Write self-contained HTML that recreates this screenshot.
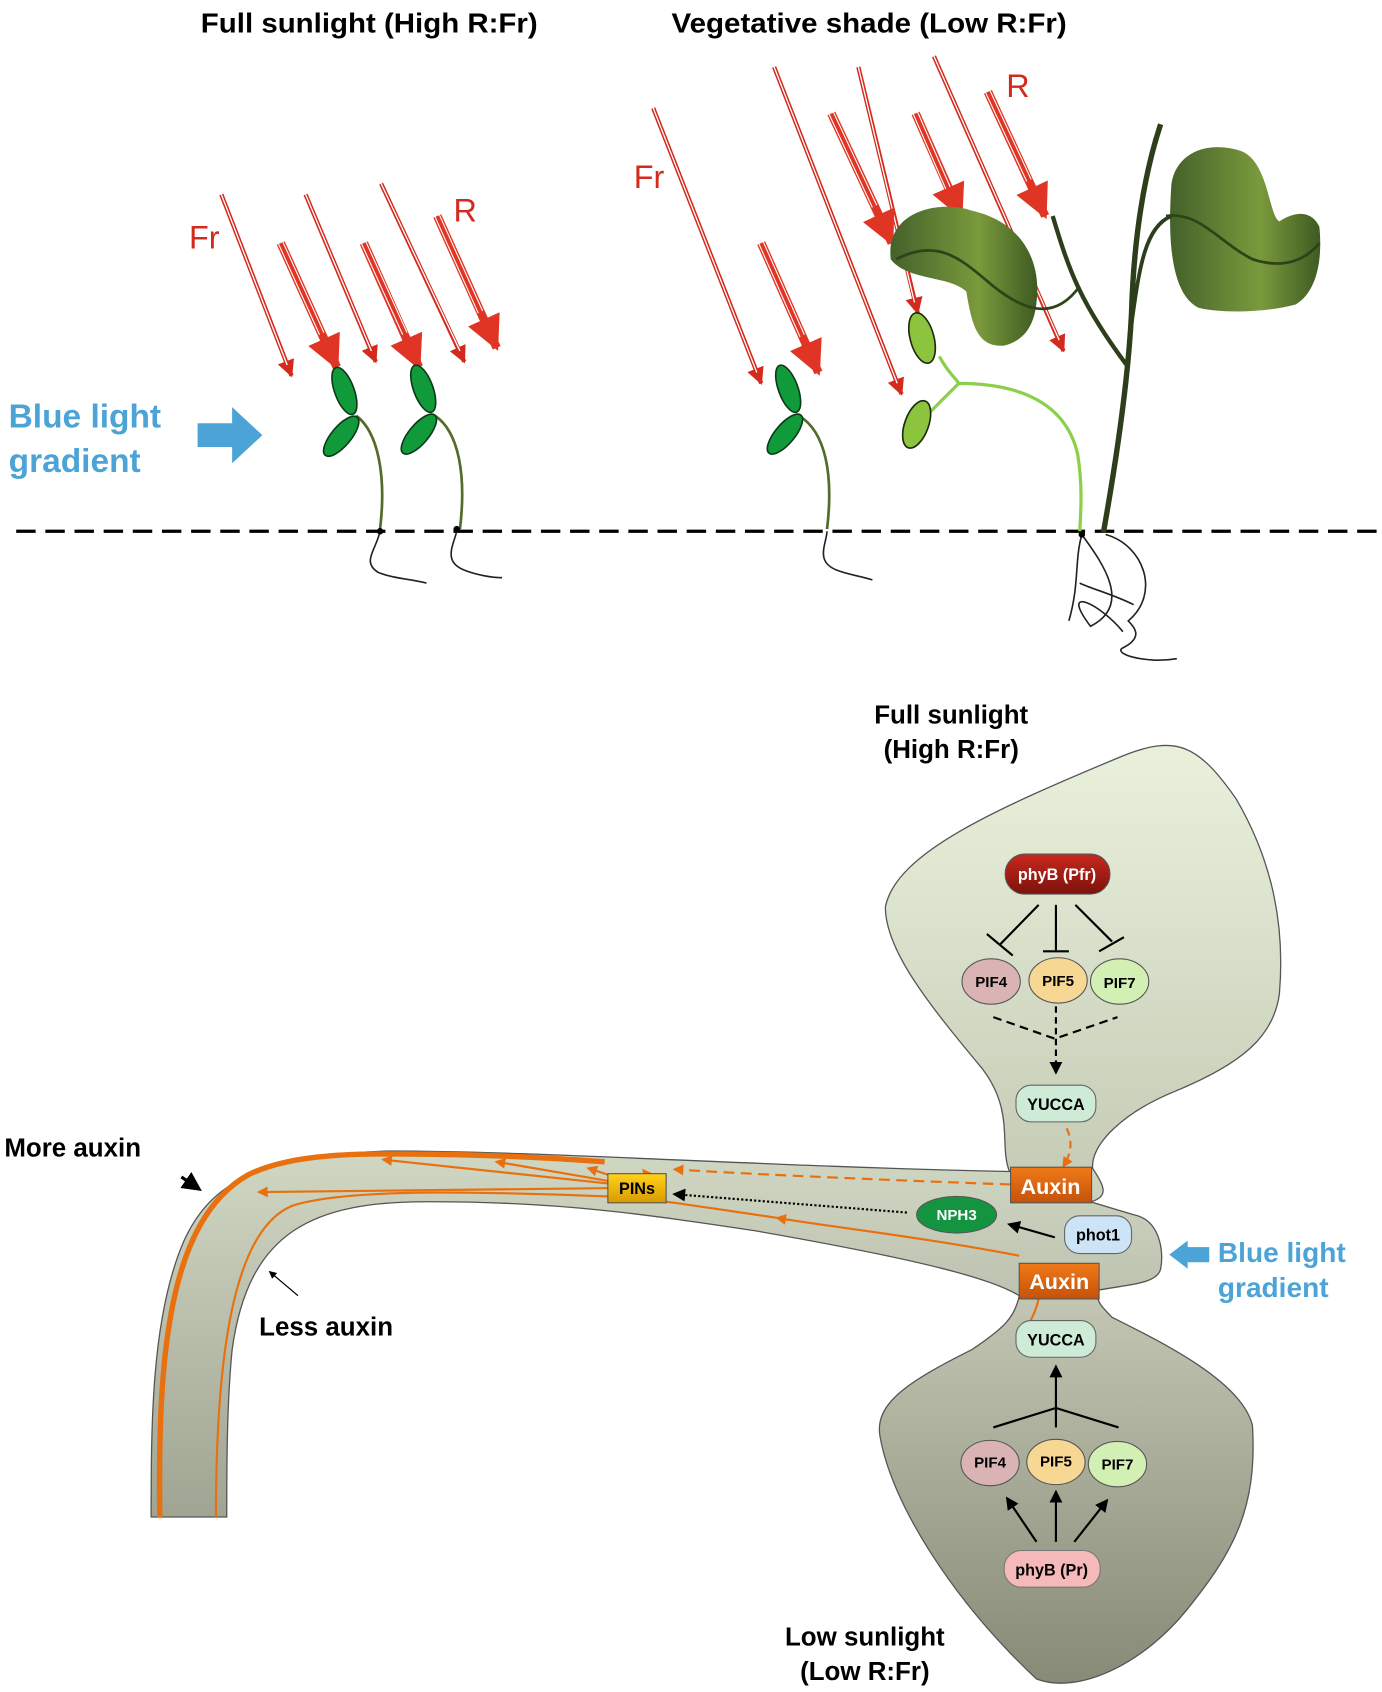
<!DOCTYPE html>
<html><head><meta charset="utf-8"><style>
html,body{margin:0;padding:0;background:#fff;}
svg{display:block;}
text{font-family:"Liberation Sans",sans-serif;}
</style></head><body>
<svg width="1382" height="1692" viewBox="0 0 1280 1567" xmlns="http://www.w3.org/2000/svg">
<defs>
<linearGradient id="top" x1="0" y1="0" x2="0" y2="1"><stop offset="0" stop-color="#e9f1dc"/><stop offset="1" stop-color="#c6ccb6"/></linearGradient>
<linearGradient id="bot" x1="0" y1="0" x2="0" y2="1"><stop offset="0" stop-color="#c2c6b2"/><stop offset="1" stop-color="#878a77"/></linearGradient>
<linearGradient id="hyp" x1="0" y1="0" x2="0" y2="1"><stop offset="0" stop-color="#d0d7c3"/><stop offset="1" stop-color="#a0a492"/></linearGradient>
<linearGradient id="leaf" x1="0" y1="0" x2="1" y2="0"><stop offset="0" stop-color="#44612a"/><stop offset="0.6" stop-color="#7a9a3c"/><stop offset="1" stop-color="#3f5a22"/></linearGradient>
<linearGradient id="pfr" x1="0" y1="0" x2="0" y2="1"><stop offset="0" stop-color="#c8281e"/><stop offset="1" stop-color="#7c120c"/></linearGradient>
<linearGradient id="aux" x1="0" y1="0" x2="0" y2="1"><stop offset="0" stop-color="#f07a18"/><stop offset="1" stop-color="#c4520a"/></linearGradient>
<linearGradient id="pin" x1="0" y1="0" x2="0" y2="1"><stop offset="0" stop-color="#ffd21a"/><stop offset="1" stop-color="#d89a00"/></linearGradient>
<marker id="ah" viewBox="0 0 10 10" refX="8" refY="5" markerWidth="6" markerHeight="6" orient="auto"><path d="M0,0L10,5L0,10z" fill="#000"/></marker>
<marker id="oh" viewBox="0 0 10 10" refX="8" refY="5" markerWidth="5" markerHeight="5" orient="auto"><path d="M0,0L10,5L0,10z" fill="#e8700e"/></marker>
<marker id="rs" viewBox="0 0 10 10" refX="9" refY="5" markerWidth="4" markerHeight="4" orient="auto"><path d="M0,0L10,5L0,10z" fill="#d42a1e"/></marker>
<marker id="rb" viewBox="0 0 10 10" refX="9" refY="5" markerWidth="4.5" markerHeight="4" orient="auto"><path d="M0,0L10,5L0,10z" fill="#e03524"/></marker>
</defs>

<text x="342" y="30" font-size="26" font-weight="bold" text-anchor="middle" textLength="312" lengthAdjust="spacingAndGlyphs">Full sunlight (High R:Fr)</text>
<text x="805" y="30" font-size="26" font-weight="bold" text-anchor="middle" textLength="366" lengthAdjust="spacingAndGlyphs">Vegetative shade (Low R:Fr)</text>

<text x="8" y="396" font-size="31" font-weight="bold" fill="#4ba3d6">Blue light</text>
<text x="8" y="437" font-size="31" font-weight="bold" fill="#4ba3d6">gradient</text>
<path d="M183,392 H215 V377 L243,403 L215,429 V414 H183Z" fill="#4ba3d6"/>

<line x1="15" y1="492" x2="1278" y2="492" stroke="#000" stroke-width="3" stroke-dasharray="18,9"/>

<g stroke="#d42a1e" stroke-width="4" fill="none">
<g marker-end="url(#rs)">
<line x1="205" y1="180" x2="270" y2="348"/>
<line x1="283" y1="180" x2="348" y2="335"/>
<line x1="353" y1="170" x2="430" y2="335"/>
<line x1="605" y1="100" x2="705" y2="355"/>
<line x1="717" y1="62" x2="835" y2="365"/>
<line x1="795" y1="62" x2="850" y2="290"/>
<line x1="865" y1="52" x2="985" y2="325"/>
</g>
</g>
<g stroke="#fff" stroke-width="1.2">
<line x1="205" y1="180" x2="266" y2="338"/>
<line x1="283" y1="180" x2="344" y2="325"/>
<line x1="353" y1="170" x2="426" y2="325"/>
<line x1="605" y1="100" x2="701" y2="345"/>
<line x1="717" y1="62" x2="831" y2="355"/>
<line x1="795" y1="62" x2="847" y2="280"/>
<line x1="865" y1="52" x2="981" y2="315"/>
</g>
<g stroke="#e03524" stroke-width="8" fill="none" marker-end="url(#rb)">
<line x1="260" y1="225" x2="312" y2="340"/>
<line x1="337" y1="225" x2="388" y2="340"/>
<line x1="405" y1="200" x2="460" y2="322"/>
<line x1="705" y1="225" x2="758" y2="345"/>
<line x1="770" y1="105" x2="826" y2="225"/>
<line x1="848" y1="105" x2="890" y2="200"/>
<line x1="915" y1="85" x2="968" y2="200"/>
</g>
<g stroke="#fff" stroke-width="1" fill="none">
<line x1="258" y1="226" x2="296" y2="310"/><line x1="262" y1="224" x2="300" y2="308"/>
<line x1="335" y1="226" x2="373" y2="310"/><line x1="339" y1="224" x2="377" y2="308"/>
<line x1="403" y1="201" x2="443" y2="290"/><line x1="407" y1="199" x2="447" y2="288"/>
<line x1="703" y1="226" x2="741" y2="312"/><line x1="707" y1="224" x2="745" y2="310"/>
<line x1="768" y1="106" x2="808" y2="192"/><line x1="772" y1="104" x2="812" y2="190"/>
<line x1="846" y1="106" x2="876" y2="175"/><line x1="850" y1="104" x2="880" y2="173"/>
<line x1="913" y1="86" x2="951" y2="168"/><line x1="917" y1="84" x2="955" y2="166"/>
</g>
<text x="175" y="230" font-size="30" fill="#d42a1e">Fr</text>
<text x="420" y="205" font-size="30" fill="#d42a1e">R</text>
<text x="587" y="174" font-size="30" fill="#d42a1e">Fr</text>
<text x="932" y="90" font-size="30" fill="#d42a1e">R</text>

<g fill="#119a3a" stroke="#0c3a18" stroke-width="1.5">
<path d="M330,385 C350,400 358,440 352,490" fill="none" stroke="#556b2a" stroke-width="2.5"/>
<ellipse cx="319" cy="362" rx="9" ry="23" transform="rotate(-20 319 362)"/>
<ellipse cx="316" cy="404" rx="9" ry="23" transform="rotate(40 316 404)"/>
<path d="M403,385 C425,400 432,440 426,490" fill="none" stroke="#556b2a" stroke-width="2.5"/>
<ellipse cx="392" cy="360" rx="9" ry="23" transform="rotate(-20 392 360)"/>
<ellipse cx="388" cy="402" rx="9" ry="23" transform="rotate(40 388 402)"/>
<path d="M740,385 C765,400 772,440 766,490" fill="none" stroke="#556b2a" stroke-width="2.5"/>
<ellipse cx="730" cy="360" rx="9" ry="23" transform="rotate(-20 730 360)"/>
<ellipse cx="727" cy="402" rx="9" ry="23" transform="rotate(40 727 402)"/>
</g>
<g stroke="#222" stroke-width="1.5" fill="none">
<path d="M352,492 C348,510 335,520 350,530 C365,536 380,536 395,540"/>
<path d="M423,492 C420,505 410,520 430,528 C440,532 455,535 465,535"/>
<path d="M766,492 C765,505 755,520 775,528 C785,532 795,533 808,537"/>
<path d="M1002,495 C995,520 1000,540 990,575 M1002,495 C1020,520 1050,560 1010,580 C980,540 1020,560 1040,585 M1024,495 C1060,505 1075,550 1045,575 C1050,580 1060,590 1040,600 C1030,605 1060,615 1090,610 M1000,540 C1010,545 1030,550 1050,560"/>
</g>
<circle cx="352" cy="492" r="3"/><circle cx="423" cy="490" r="3"/><circle cx="1002" cy="495" r="3"/>

<path d="M825,240 C820,195 870,185 900,195 C945,205 965,240 960,280 C958,300 950,315 930,320 C905,322 900,300 895,270 C880,255 840,260 825,240Z" fill="url(#leaf)"/>
<path d="M1085,170 C1090,140 1120,130 1150,140 C1175,150 1175,200 1185,205 C1200,195 1215,195 1222,210 C1225,240 1220,270 1200,282 C1170,290 1130,290 1110,285 C1090,275 1080,240 1085,170Z" fill="url(#leaf)"/>
<path d="M830,240 C870,220 890,240 920,265 C945,285 975,300 1000,265" stroke="#2d4418" stroke-width="2.5" fill="none"/>
<path d="M1080,200 C1110,195 1130,225 1160,240 C1190,250 1210,240 1222,225" stroke="#2d4418" stroke-width="2.5" fill="none"/>
<path d="M1075,115 C1060,160 1050,220 1048,290 C1045,350 1035,420 1022,493" stroke="#2d3f1a" stroke-width="5" fill="none"/>
<path d="M975,200 C990,250 1000,280 1045,340" stroke="#2d3f1a" stroke-width="4" fill="none"/>
<path d="M1048,300 C1055,250 1060,210 1085,200" stroke="#2d3f1a" stroke-width="3.5" fill="none"/>
<path d="M870,330 C878,345 885,350 888,355 C930,355 985,365 998,420 C1003,450 1001,475 1000,492 M888,355 C878,365 868,375 858,385" stroke="#8ccf4a" stroke-width="3" fill="none"/>
<ellipse cx="854" cy="313" rx="11" ry="24" transform="rotate(-15 854 313)" fill="#8dc43d" stroke="#1a2a0a" stroke-width="1.5"/>
<ellipse cx="849" cy="393" rx="11" ry="23" transform="rotate(20 849 393)" fill="#8dc43d" stroke="#1a2a0a" stroke-width="1.5"/>

<path d="M935,1085 C925,1060 940,1030 910,990 C860,930 820,880 820,840 C830,790 920,750 1040,700 C1090,680 1110,690 1145,740 C1180,800 1190,860 1185,920 C1180,960 1150,985 1090,1010 C1040,1030 1010,1060 1012,1082Z" fill="url(#top)" stroke="#555" stroke-width="1.2"/>
<path d="M944,1200 C940,1220 930,1230 900,1250 C840,1280 810,1300 815,1330 C825,1390 880,1480 960,1555 C1000,1570 1060,1540 1100,1490 C1140,1440 1165,1400 1160,1320 C1150,1280 1080,1245 1030,1220 C1020,1210 1016,1205 1017,1200Z" fill="url(#bot)" stroke="#555" stroke-width="1.2"/>
<path d="M1012,1082 C1020,1095 1030,1108 1010,1113 L1050,1125 C1075,1130 1078,1160 1075,1175 C1072,1190 1040,1190 1017,1195 L944,1200 C920,1185 860,1168 700,1140 C600,1125 520,1113 400,1113 C290,1112 230,1140 215,1250 C210,1300 210,1360 210,1405 L140,1405 C140,1320 140,1220 170,1150 C195,1095 240,1070 360,1066 C500,1066 700,1080 935,1085Z" fill="url(#hyp)" stroke="#555" stroke-width="1.2"/>

<path d="M148,1405 C146,1260 155,1130 230,1088 C270,1068 330,1068 400,1069 C470,1070 520,1073 560,1076" stroke="#e8700e" stroke-width="5" fill="none"/>
<path d="M200,1405 C200,1260 215,1140 270,1117 C320,1100 450,1103 610,1110" stroke="#e8700e" stroke-width="2" fill="none"/>
<g stroke="#e8700e" stroke-width="2" fill="none" marker-end="url(#oh)">
<line x1="600" y1="1100" x2="355" y2="1074"/>
<line x1="600" y1="1100" x2="460" y2="1076"/>
<line x1="600" y1="1100" x2="545" y2="1082"/>
<line x1="600" y1="1100" x2="240" y2="1104"/>
<line x1="604" y1="1094" x2="596" y2="1084"/>
<path d="M944,1163 C850,1145 760,1135 720,1128"/>
<path d="M936,1097 C850,1094 700,1088 625,1083" stroke-dasharray="10,6"/>
<path d="M988,1045 C995,1060 990,1072 985,1080" stroke-dasharray="7,5"/>
</g>
<path d="M720,1128 C680,1122 640,1116 610,1112" stroke="#e8700e" stroke-width="2" fill="none"/>
<path d="M962,1203 C960,1212 957,1218 954,1224" stroke="#e8700e" stroke-width="2" fill="none"/>

<rect x="563" y="1087" width="54" height="27" fill="url(#pin)" stroke="#555"/>
<text x="590" y="1106" font-size="15" font-weight="bold" text-anchor="middle">PINs</text>

<line x1="840" y1="1123" x2="625" y2="1106" stroke="#000" stroke-width="2" stroke-dasharray="2,2" marker-end="url(#ah)"/>

<rect x="931" y="791" width="97" height="37" rx="18" fill="url(#pfr)" stroke="#555"/>
<text x="979" y="815" font-size="15" font-weight="bold" fill="#fff" text-anchor="middle">phyB (Pfr)</text>
<g stroke="#000" stroke-width="2">
<line x1="962" y1="838" x2="926" y2="875"/><line x1="914" y1="865" x2="938" y2="885"/>
<line x1="978" y1="838" x2="978" y2="880"/><line x1="966" y1="881" x2="990" y2="881"/>
<line x1="996" y1="838" x2="1030" y2="872"/><line x1="1018" y1="881" x2="1041" y2="868"/>
</g>
<g stroke="#555" stroke-width="1">
<ellipse cx="918" cy="909" rx="27" ry="21" fill="#dab4b4"/>
<ellipse cx="980" cy="908" rx="27" ry="21" fill="#f6d894"/>
<ellipse cx="1037" cy="909" rx="27" ry="21" fill="#d2efb4"/>
</g>
<text x="918" y="914" font-size="14" font-weight="bold" text-anchor="middle">PIF4</text>
<text x="980" y="913" font-size="14" font-weight="bold" text-anchor="middle">PIF5</text>
<text x="1037" y="915" font-size="14" font-weight="bold" text-anchor="middle">PIF7</text>
<path d="M920,942 L977,962 L1035,942" stroke="#000" stroke-width="2" stroke-dasharray="8,5" fill="none"/>
<line x1="978" y1="932" x2="978" y2="993" stroke="#000" stroke-width="2" stroke-dasharray="6,4" marker-end="url(#ah)"/>
<rect x="941" y="1005" width="74" height="34" rx="14" fill="#cdebd6" stroke="#666"/>
<text x="978" y="1028" font-size="15" font-weight="bold" text-anchor="middle">YUCCA</text>

<rect x="936" y="1081" width="75" height="33" fill="url(#aux)" stroke="#555"/>
<text x="973" y="1106" font-size="20" font-weight="bold" fill="#fff" text-anchor="middle">Auxin</text>
<ellipse cx="886" cy="1125" rx="37" ry="17" fill="#149441" stroke="#555"/>
<text x="886" y="1130" font-size="14" font-weight="bold" fill="#fff" text-anchor="middle">NPH3</text>
<rect x="986" y="1126" width="62" height="35" rx="14" fill="#cde3f6" stroke="#666"/>
<text x="1017" y="1149" font-size="15" font-weight="bold" text-anchor="middle">phot1</text>
<line x1="977" y1="1146" x2="935" y2="1134" stroke="#000" stroke-width="2" marker-end="url(#ah)"/>
<rect x="944" y="1170" width="74" height="33" fill="url(#aux)" stroke="#555"/>
<text x="981" y="1194" font-size="20" font-weight="bold" fill="#fff" text-anchor="middle">Auxin</text>

<rect x="941" y="1223" width="74" height="34" rx="14" fill="#cdebd6" stroke="#666"/>
<text x="978" y="1246" font-size="15" font-weight="bold" text-anchor="middle">YUCCA</text>
<g stroke="#000" stroke-width="2" fill="none">
<path d="M920,1322 L978,1304 L1036,1322"/>
<line x1="978" y1="1322" x2="978" y2="1266" marker-end="url(#ah)"/>
<line x1="960" y1="1428" x2="933" y2="1388" marker-end="url(#ah)"/>
<line x1="978" y1="1428" x2="978" y2="1382" marker-end="url(#ah)"/>
<line x1="995" y1="1428" x2="1025" y2="1390" marker-end="url(#ah)"/>
</g>
<g stroke="#555" stroke-width="1">
<ellipse cx="917" cy="1355" rx="27" ry="21" fill="#dab4b4"/>
<ellipse cx="978" cy="1354" rx="27" ry="21" fill="#f6d894"/>
<ellipse cx="1035" cy="1356" rx="27" ry="21" fill="#d2efb4"/>
</g>
<text x="917" y="1359" font-size="14" font-weight="bold" text-anchor="middle">PIF4</text>
<text x="978" y="1358" font-size="14" font-weight="bold" text-anchor="middle">PIF5</text>
<text x="1035" y="1361" font-size="14" font-weight="bold" text-anchor="middle">PIF7</text>
<rect x="930" y="1436" width="89" height="34" rx="16" fill="#f5b9b9" stroke="#777"/>
<text x="974" y="1459" font-size="15" font-weight="bold" text-anchor="middle">phyB (Pr)</text>

<text x="881" y="670" font-size="24" font-weight="bold" text-anchor="middle">Full sunlight</text>
<text x="881" y="702" font-size="24" font-weight="bold" text-anchor="middle">(High R:Fr)</text>
<text x="801" y="1524" font-size="24" font-weight="bold" text-anchor="middle">Low sunlight</text>
<text x="801" y="1556" font-size="24" font-weight="bold" text-anchor="middle">(Low R:Fr)</text>
<text x="1128" y="1169" font-size="26" font-weight="bold" fill="#4ba3d6">Blue light</text>
<text x="1128" y="1201" font-size="26" font-weight="bold" fill="#4ba3d6">gradient</text>
<path d="M1120,1155 H1100 V1149 L1083,1162 L1100,1175 V1169 H1120Z" fill="#4ba3d6"/>
<text x="4" y="1071" font-size="24" font-weight="bold">More auxin</text>
<line x1="168" y1="1090" x2="184" y2="1101" stroke="#000" stroke-width="3" marker-end="url(#ah)"/>
<text x="240" y="1237" font-size="24" font-weight="bold">Less auxin</text>
<line x1="276" y1="1200" x2="250" y2="1178" stroke="#000" stroke-width="1.2" marker-end="url(#ah)"/>
</svg>
</body></html>
